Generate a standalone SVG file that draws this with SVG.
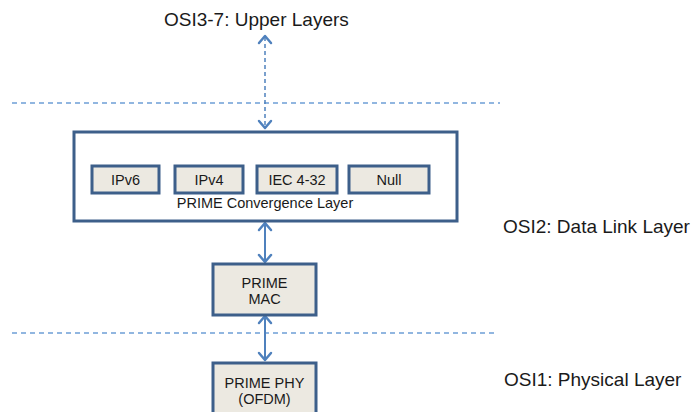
<svg xmlns="http://www.w3.org/2000/svg" width="691" height="412" viewBox="0 0 691 412">
<style>
.lbl{font-family:"Liberation Sans",Arial,sans-serif;font-size:19px;fill:#1a1a1a}
.txt{font-family:"Liberation Sans",Arial,sans-serif;font-size:14.5px;fill:#1a1a1a;text-anchor:middle}
.box{fill:#ece9e1;stroke:#3d5f8a;stroke-width:3}
.big{fill:#ffffff;stroke:#3d5f8a;stroke-width:3}
.sep{stroke:#6d9fd6;stroke-width:1.5;stroke-dasharray:5,4;fill:none}
.arr{stroke:#4f81bd;stroke-width:2;fill:none}
.darr{stroke:#4f81bd;stroke-width:1.5;stroke-dasharray:4,3;fill:none}
.head{stroke:#4f81bd;stroke-width:2.5;fill:none;stroke-linecap:round;stroke-linejoin:round}
</style>
<rect width="691" height="412" fill="#ffffff"/>
<g id="connectors">
<line class="sep" x1="12" y1="103" x2="500" y2="103"/>
<line class="sep" x1="12" y1="333" x2="498" y2="333"/>
<line class="darr" x1="265" y1="37" x2="265" y2="127"/>
<polyline class="head" points="259,43 265,36 271,43"/>
<polyline class="head" points="259,121 265,128 271,121"/>
<line class="arr" x1="265" y1="224" x2="265" y2="262"/>
<polyline class="head" points="259,230 265,223 271,230"/>
<polyline class="head" points="259,255 265,262 271,255"/>
<line class="arr" x1="265" y1="317" x2="265" y2="360"/>
<polyline class="head" points="259,323 265,316 271,323"/>
<polyline class="head" points="259,353 265,360 271,353"/>
</g>
<g id="upper"><text class="lbl" x="164" y="26">OSI3-7: Upper Layers</text></g>
<g id="osi2"><text class="lbl" x="503" y="233">OSI2: Data Link Layer</text></g>
<g id="osi1"><text class="lbl" x="504" y="386">OSI1: Physical Layer</text></g>
<g id="convergence">
<rect class="big" x="74" y="132" width="383" height="89"/>
<text class="txt" x="265" y="208">PRIME Convergence Layer</text>
</g>
<g id="ipv6"><rect class="box" x="92" y="166" width="67" height="27"/><text class="txt" x="125.5" y="185">IPv6</text></g>
<g id="ipv4"><rect class="box" x="175" y="166" width="68" height="27"/><text class="txt" x="209" y="185">IPv4</text></g>
<g id="iec"><rect class="box" x="257" y="166" width="80" height="27"/><text class="txt" x="297" y="185">IEC 4-32</text></g>
<g id="null"><rect class="box" x="349" y="166" width="80" height="27"/><text class="txt" x="389" y="185">Null</text></g>
<g id="mac"><rect class="box" x="213" y="264" width="103" height="51"/><text class="txt" x="264.5" y="288">PRIME</text><text class="txt" x="264.5" y="304">MAC</text></g>
<g id="phy"><rect class="box" x="213" y="363" width="103" height="60"/><text class="txt" x="264.5" y="388">PRIME PHY</text><text class="txt" x="264.5" y="404">(OFDM)</text></g>
</svg>
